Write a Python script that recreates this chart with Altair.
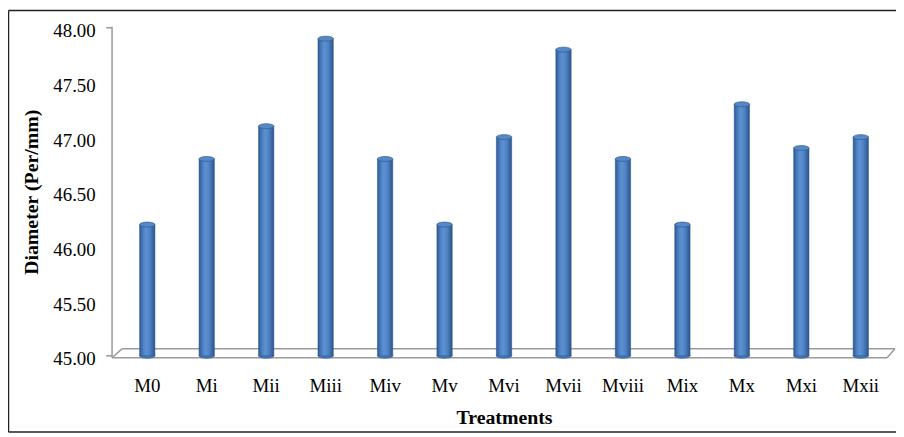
import altair as alt
import pandas as pd

# ---- data ----
treatments = ["M0", "Mi", "Mii", "Miii", "Miv", "Mv", "Mvi", "Mvii",
              "Mviii", "Mix", "Mx", "Mxi", "Mxii"]
diameter = [46.2, 46.8, 47.1, 47.9, 46.8, 46.2, 47.0, 47.8,
            46.8, 46.2, 47.3, 46.9, 47.0]
y_ticks = [45.0, 45.5, 46.0, 46.5, 47.0, 47.5, 48.0]
y_min, y_max = 45.0, 48.0
y_title = "Diameter (Per/mm)"
x_title = "Treatments"

df = pd.DataFrame({"Treatments": treatments, "Diameter": diameter,
                   "Base": [y_min] * len(treatments)})
one = pd.DataFrame({"k": [0]})
tick_ends = pd.DataFrame({"v": [y_min, y_max]})

W, H = 791, 331
PAD = {"left": 105, "top": 18, "right": 0, "bottom": 78}
FONT = "Liberation Serif"
GRAY = "#9a9a9a"

ellipse = "M -1 0 A 1 0.32 0 1 0 1 0 A 1 0.32 0 1 0 -1 0 Z"

xenc = alt.X("Treatments:N", sort=treatments,
             scale=alt.Scale(paddingInner=0.75, paddingOuter=0.467),
             axis=alt.Axis(title=x_title, labelAngle=0, labelFont=FONT,
                           labelFontSize=19, labelColor="black",
                           labelPadding=21, ticks=False, domain=False,
                           titleFont=FONT, titleFontSize=20,
                           titleFontWeight="bold", titleColor="black",
                           titlePadding=12))
yscale = alt.Scale(domain=[y_min, y_max], nice=False, zero=False)
yaxis = alt.Axis(values=y_ticks, format=".2f", title=y_title,
                 labelFont=FONT, labelFontSize=19,
                 labelColor="black", labelPadding=17,
                 labelOffset=3, ticks=False, domain=False,
                 grid=False, titleFont=FONT, titleFontSize=20,
                 titleFontWeight="bold", titleColor="black",
                 titleAngle=270, titleX=-75, titleY=H / 2,
                 titleAlign="center", titleBaseline="alphabetic")
yenc = alt.Y("Diameter:Q", scale=yscale, axis=yaxis)

grad = alt.LinearGradient(
    gradient="linear", x1=0, x2=1, y1=0, y2=0,
    stops=[alt.GradientStop(color="#2C5890", offset=0),
           alt.GradientStop(color="#4A7EC0", offset=0.22),
           alt.GradientStop(color="#5D91D3", offset=0.42),
           alt.GradientStop(color="#4E82C2", offset=0.68),
           alt.GradientStop(color="#2A548B", offset=1)])


def seg(x1, y1, x2, y2, color=GRAY, w=1.5):
    return alt.Chart(one).mark_rule(color=color, strokeWidth=w).encode(
        x=alt.value(x1), x2=alt.value(x2), y=alt.value(y1), y2=alt.value(y2))


floor = [
    seg(0, -1, 0, 333),        # back-wall axis line
    seg(0, 333, 782, 333),     # floor front edge
    seg(10, 324, 790, 324),    # floor back edge
    seg(0, 333, 10, 324),      # left diagonal
    seg(782, 333, 790, 324),   # right diagonal
]
BOT = H + PAD["bottom"] - 1
border = [
    seg(-104.5, -17.5, W, -17.5, color="#222222", w=1.5),
    seg(-104.5, -17.5, -104.5, BOT, color="#222222", w=1.5),
    seg(-104.5, BOT, W, BOT, color="#222222", w=1.5),
]

end_ticks = alt.Chart(tick_ends).mark_rule(color=GRAY, strokeWidth=1.5).encode(
    y=alt.Y("v:Q", scale=yscale, axis=yaxis), x=alt.value(-6), x2=alt.value(0))

base = alt.Chart(df)
bottom_cap = base.mark_point(shape=ellipse, size=240, filled=True,
                             fill="#4477B6", stroke="#2D5A8F",
                             strokeWidth=0.6, opacity=1).encode(
    x=xenc, y=alt.Y("Base:Q", scale=yscale, axis=yaxis))
bars = base.mark_bar(size=15.5, color=grad, stroke="#2D5A8F",
                     strokeWidth=0.5).encode(x=xenc, y=yenc, y2="Base:Q")
top_cap = base.mark_point(shape=ellipse, size=240, filled=True,
                          fill="#5787C4", stroke="#2F5C93",
                          strokeWidth=0.7, opacity=1).encode(x=xenc, y=yenc)

chart = alt.layer(*border, *floor, end_ticks, bottom_cap, bars, top_cap).properties(
    width=W, height=H, padding=PAD,
    autosize=alt.AutoSizeParams(type="none"),
    background="white",
).configure_view(stroke=None).configure_axis(
    labelFont=FONT, titleFont=FONT, labelColor="black", titleColor="black"
)

chart.save("out.html", embed_options={"renderer": "svg", "actions": False})
